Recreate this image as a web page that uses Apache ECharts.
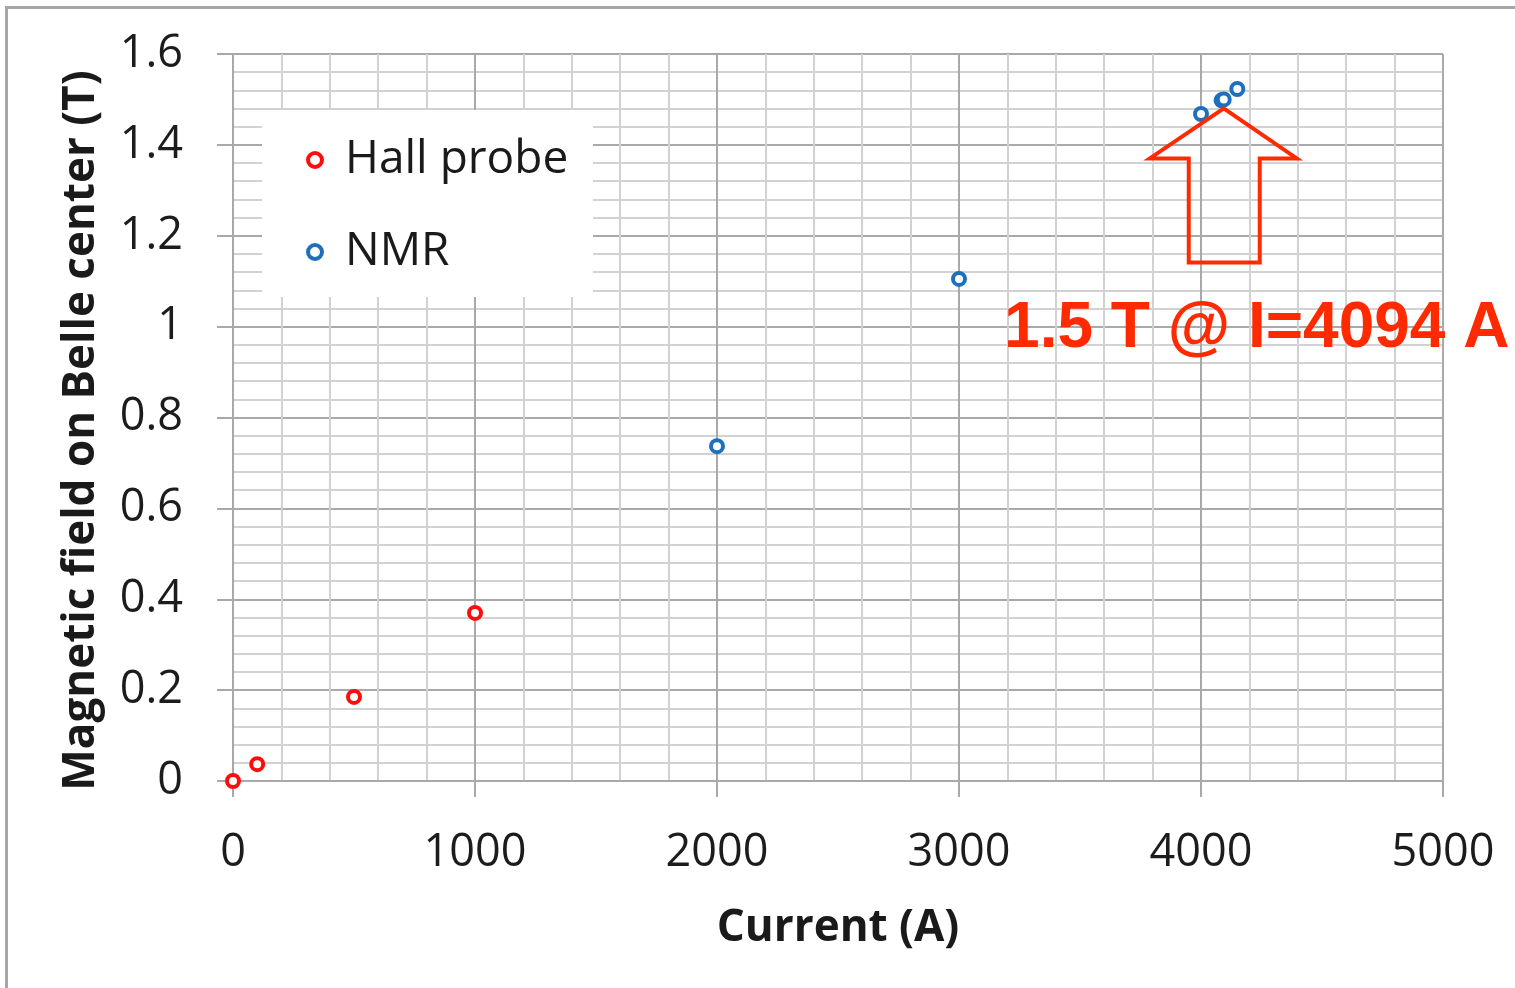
<!DOCTYPE html>
<html>
<head>
<meta charset="utf-8">
<script src="https://cdn.jsdelivr.net/npm/echarts@6/dist/echarts.min.js"></script>
<style>
  html, body { margin: 0; padding: 0; background: #ffffff; }
  #chart { width: 1515px; height: 988px; }
</style>
</head>
<body>
<div id="chart"></div>
<script>
// Hall probe measurements: current (A) vs field (T)
const hallCurrent = [0, 100, 500, 1000];
const hallField = [0, 0.037, 0.185, 0.37];

// NMR measurements: current (A) vs field (T)
const nmrCurrent = [2000, 3000, 4000, 4085, 4094, 4150];
const nmrField = [0.737, 1.105, 1.468, 1.498, 1.5, 1.523];

// Axis ticks
const xTicks = [0, 1000, 2000, 3000, 4000, 5000];
const yTicks = [0, 0.2, 0.4, 0.6, 0.8, 1, 1.2, 1.4, 1.6];

// Operating point called out on the chart
const annoCurrent = 4094;
const annoField = 1.5;

const seriesNames = ['Hall probe', 'NMR'];
const xTitle = 'Current (A)';
const yTitle = 'Magnetic field on Belle center (T)';

const FONT = '"Open Sans", "Noto Sans", sans-serif';
const RED = '#ff0d0d';
const BLUE = '#1f6fbf';
const ANNO = '#ff2a00';
const GRID_MAJOR = '#a9a9a9';
const GRID_MINOR = '#d2d2d2';

const pairs = (xs, ys) => xs.map((x, i) => [x, ys[i]]);

const chart = echarts.init(document.getElementById('chart'), null, { renderer: 'canvas' });

const axisCommon = {
  type: 'value',
  axisLine: { show: true, lineStyle: { color: GRID_MAJOR, width: 2 } },
  axisTick: { show: true, inside: false, length: 16, lineStyle: { color: GRID_MAJOR, width: 2 } },
  minorTick: { show: false, splitNumber: 5 },
  splitLine: { show: true, lineStyle: { color: GRID_MAJOR, width: 2 } },
  minorSplitLine: { show: true, lineStyle: { color: GRID_MINOR, width: 2 } },
  nameLocation: 'middle',
  nameTextStyle: { fontFamily: FONT, fontWeight: 'bold', fontSize: 44, color: '#1a1a1a' }
};

const ringSeries = (name, color, xs, ys) => ({
  name: name,
  type: 'scatter',
  symbol: 'circle',
  symbolSize: 12,
  clip: false,
  z: 5,
  itemStyle: { color: '#ffffff', borderColor: color, borderWidth: 4, opacity: 1 },
  data: pairs(xs, ys)
});

chart.setOption({
  animation: false,
  backgroundColor: '#ffffff',
  grid: { left: 233, right: 72, top: 54, bottom: 207, containLabel: false },
  xAxis: Object.assign({}, axisCommon, {
    min: xTicks[0],
    max: xTicks[xTicks.length - 1],
    interval: xTicks[1] - xTicks[0],
    name: xTitle,
    nameGap: 125,
    axisLabel: {
      margin: 50,
      fontFamily: FONT, fontSize: 45, color: '#1c1c1c',
      formatter: v => String(xTicks.find(t => Math.abs(t - v) < 1e-6) ?? v)
    }
  }),
  yAxis: Object.assign({}, axisCommon, {
    min: yTicks[0],
    max: yTicks[yTicks.length - 1],
    interval: 0.2,
    name: yTitle,
    nameGap: 130,
    nameTextStyle: Object.assign({}, axisCommon.nameTextStyle, { padding: [0, 26, 0, 0] }),
    axisLabel: {
      margin: 50,
      fontFamily: FONT, fontSize: 45, color: '#1c1c1c',
      formatter: v => {
        const t = yTicks.find(t => Math.abs(t - v) < 1e-6);
        return String(t !== undefined ? t : +v.toFixed(1));
      }
    }
  }),
  legend: {
    orient: 'vertical',
    left: 306,
    top: 135,
    padding: 0,
    itemGap: 42,
    itemWidth: 50,
    itemHeight: 14,
    z: 10,
    itemStyle: { borderWidth: 4 },
    textStyle: { fontFamily: FONT, fontSize: 46, color: '#1a1a1a', lineHeight: 50 },
    data: seriesNames
  },
  series: [
    ringSeries(seriesNames[0], RED, hallCurrent, hallField),
    ringSeries(seriesNames[1], BLUE, nmrCurrent, nmrField)
  ]
});

// Overlays: frame, legend backdrop, arrow and label anchored to the operating point
const tip = chart.convertToPixel({ gridIndex: 0 }, [annoCurrent, annoField]);
const tx = tip[0];
const ty = tip[1] + 9;
const arrowPts = [
  [0, 0], [73, 50], [36, 50], [36, 154], [-35, 154], [-35, 50], [-74, 50]
].map(p => [tx + p[0], ty + p[1]]);

chart.setOption({
  graphic: [
    {
      type: 'rect', z: 1, zlevel: 0,
      shape: { x: 262, y: 110, width: 331, height: 187 },
      style: { fill: '#ffffff' }
    },
    {
      type: 'line', zlevel: 1, z: 20,
      shape: { x1: 6.5, y1: 7, x2: 6.5, y2: 988 },
      style: { stroke: '#a6a6a6', lineWidth: 3 }
    },
    {
      type: 'line', zlevel: 1, z: 20,
      shape: { x1: 5, y1: 7.5, x2: 1515, y2: 7.5 },
      style: { stroke: '#a6a6a6', lineWidth: 3 }
    },
    {
      type: 'polygon', zlevel: 1, z: 20,
      shape: { points: arrowPts },
      style: { fill: 'none', stroke: ANNO, lineWidth: 4, lineJoin: 'miter' }
    },
    {
      type: 'text', zlevel: 1, z: 20,
      x: tx + 33, y: ty + 221,
      style: {
        text: annoField.toFixed(1) + ' T @ I=' + annoCurrent + ' A',
        fill: ANNO,
        opacity: 1,
        font: 'bold 64px "Liberation Sans", Arial, sans-serif',
        align: 'center',
        verticalAlign: 'middle'
      }
    }
  ]
});
</script>
</body>
</html>
